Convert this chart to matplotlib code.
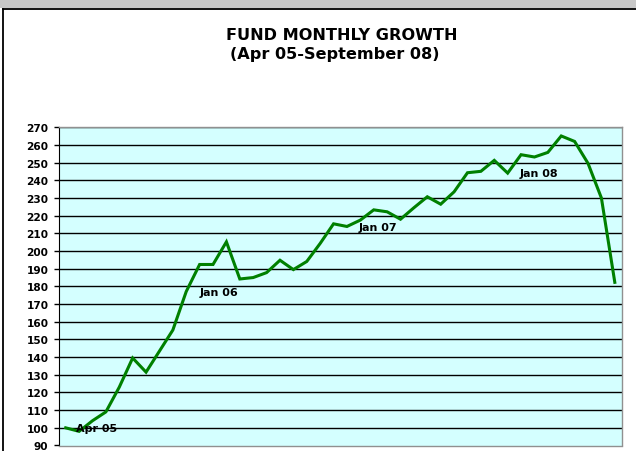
import matplotlib
matplotlib.use("Agg")
import matplotlib.pyplot as plt
from matplotlib.patches import Rectangle
from matplotlib.lines import Line2D

plt.rcParams['font.family'] = ['DejaVu Sans']

months = list(range(42))  # Apr 05 .. Sep 08
values = [100, 98, 104, 109, 123, 139.5, 131.5, 143.4, 155.3, 177.1,
          192.4, 192.4, 205.2, 184.2, 185, 187.8, 194.8, 189.5, 194.1, 204.3,
          215.4, 213.9, 217.5, 223.3, 222.2, 218, 224.5, 230.7, 226.5, 233.5,
          244.3, 245.1, 251.3, 244.1, 254.5, 253.2, 255.8, 265.1, 262, 249.6,
          230, 182.3]
label_texts = ["Apr 05", "Jan 06", "Jan 07", "Jan 08"]
label_x = [2.3, 11.45, 23.3, 35.3]
label_y = [99.9, 176.6, 213.4, 244.0]
yticks = list(range(90, 271, 10))

fig = plt.figure(figsize=(6.36, 4.52), dpi=100)
W, H = 636, 452
# grey bar on top
fig.add_artist(Rectangle((0, 1 - 9 / H), 1, 9 / H, transform=fig.transFigure,
                         facecolor='#c8c8c8', edgecolor='none'))
# chart border (left & top)
fig.add_artist(Line2D([3.5 / W, 3.5 / W], [0, 1 - 9.5 / H], transform=fig.transFigure,
                      color='black', lw=1.3))
fig.add_artist(Line2D([3.5 / W, 1], [1 - 9.5 / H, 1 - 9.5 / H], transform=fig.transFigure,
                      color='black', lw=1.3))

ax = fig.add_axes([59 / W, 1 - 446.5 / H, (621.5 - 59) / W, (446.5 - 128.3) / H])
ax.set_facecolor('#d4ffff')
ax.plot(months, values, color='#008000', lw=2.2, solid_joinstyle='miter', zorder=3)
ax.set_xlim(-0.5, 41.5)
ax.set_ylim(90, 270)
ax.set_yticks(yticks)
ax.set_yticklabels([str(t) for t in yticks], fontsize=7.6, fontweight='bold')
ax.set_xticks([])
for t in yticks[1:]:
    ax.axhline(t, color='black', lw=1.0, zorder=1)
for s in ['top', 'right', 'bottom']:
    ax.spines[s].set_color('#909090')
    ax.spines[s].set_linewidth(1.0)
ax.spines['left'].set_color('black')
ax.tick_params(axis='y', length=3.3, width=1, pad=4.3)

for t, x, y in zip(label_texts, label_x, label_y):
    ax.text(x, y, t, ha='center', va='center', fontsize=8, fontweight='bold', zorder=4)

fig.text(341.5 / W, 1 - 40 / H, "FUND MONTHLY GROWTH", ha='center', va='baseline',
         fontsize=11.6, fontweight='bold')
fig.text(334.5 / W, 1 - 58.5 / H, "(Apr 05-September 08)", ha='center', va='baseline',
         fontsize=11.6, fontweight='bold')

fig.savefig('out.png', dpi=100)
